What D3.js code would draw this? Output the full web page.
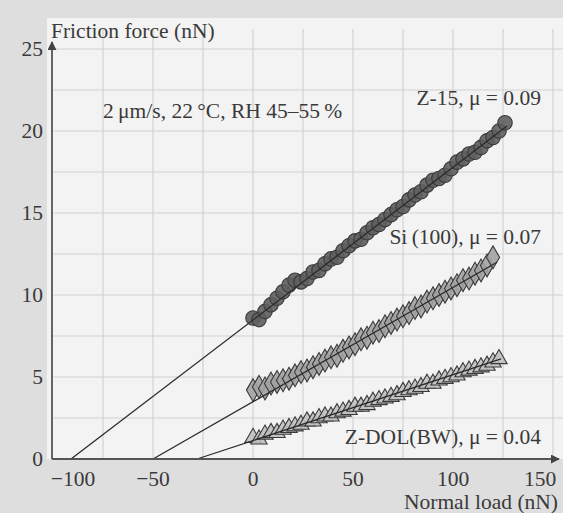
<!DOCTYPE html>
<html>
<head>
<meta charset="utf-8">
<script src="https://cdn.jsdelivr.net/npm/d3@7"></script>
<style>
  html, body { margin: 0; padding: 0; background: #dedede; }
  svg { display: block; }
  text { font-family: "Liberation Serif", "DejaVu Serif", serif; fill: #3a3a3a; }
</style>
</head>
<body>
<div id="chart"></div>
<script>
// normal load sweep (nN)
const load = [0, 3, 6, 9, 12, 15, 18, 21, 24, 27, 30, 33, 36, 39, 42, 45, 48, 51, 54, 57,
  60, 63, 66, 69, 72, 75, 78, 81, 84, 87, 90, 93, 96, 99, 102, 105, 108, 111, 114, 117,
  120, 123, 126];

// friction force (nN)
const z15 = [8.6, 8.5, 9.0, 9.4, 9.8, 10.2, 10.6, 10.9, 10.8, 11.0, 11.4, 11.5, 11.9, 12.2,
  12.3, 12.7, 13.0, 13.3, 13.4, 13.8, 14.1, 14.3, 14.6, 14.9, 15.2, 15.4, 15.8, 16.1, 16.3,
  16.7, 17.0, 17.1, 17.3, 17.7, 18.1, 18.3, 18.6, 18.7, 19.0, 19.4, 19.6, 20.0, 20.5];
const si100 = [4.2, 4.4, 4.3, 4.6, 4.7, 4.8, 4.9, 5.1, 5.3, 5.4, 5.6, 5.8, 6.0, 6.2, 6.3,
  6.6, 6.8, 7.0, 7.3, 7.4, 7.7, 7.8, 8.1, 8.3, 8.5, 8.7, 8.9, 9.2, 9.3, 9.6, 9.8, 10.0,
  10.2, 10.4, 10.6, 10.9, 11.0, 11.3, 11.5, 11.8, 12.3];
const zdol = [1.3, 1.2, 1.5, 1.6, 1.6, 1.8, 1.9, 2.0, 2.1, 2.3, 2.3, 2.5, 2.6, 2.6, 2.8,
  2.9, 3.0, 3.2, 3.2, 3.3, 3.5, 3.6, 3.7, 3.8, 3.9, 4.1, 4.2, 4.3, 4.4, 4.6, 4.6, 4.8,
  4.9, 5.0, 5.1, 5.3, 5.4, 5.5, 5.6, 5.7, 5.9, 6.1];

// linear fits, extrapolated to zero friction
const fitZ15 = [[-91, 0], [127, 20.3]];
const fitSi = [[-50, 0], [122, 12.0]];
const fitDol = [[-28, 0], [124, 6.1]];

const xTicks = [-100, -50, 0, 50, 100, 150];
const yTicks = [0, 5, 10, 15, 20, 25];
const xGrid = [-75, -50, -25, 0, 25, 50, 75, 100, 125, 150];
const yGrid = [2.5, 5, 7.5, 10, 12.5, 15, 17.5, 20, 22.5, 25];

const width = 563, height = 513;
const fs = 21.5;

const x = d3.scaleLinear().domain([-100, 150]).range([53, 553]);
const y = d3.scaleLinear().domain([0, 25]).range([459, 49]);

const svg = d3.select('#chart').append('svg')
  .attr('width', width)
  .attr('height', height);

// paper + plot area
svg.append('rect').attr('width', width).attr('height', height).attr('fill', '#dedede');
svg.append('rect')
  .attr('x', 47).attr('y', 18)
  .attr('width', width - 47).attr('height', 441)
  .attr('fill', '#f3f3f3');

// grid
const grid = svg.append('g').attr('stroke', '#d2d2d2').attr('stroke-width', 1.2);
grid.selectAll('.gx').data(xGrid).join('line')
  .attr('x1', d => x(d)).attr('x2', d => x(d))
  .attr('y1', y(0)).attr('y2', y(25) - 20);
grid.selectAll('.gy').data(yGrid).join('line')
  .attr('x1', x(-100)).attr('x2', width)
  .attr('y1', d => y(d)).attr('y2', d => y(d));

// markers
function points(values, symbol, size, fill) {
  const pts = values.map((v, i) => [load[i], v]);
  svg.append('g').selectAll('path').data(pts).join('path')
    .attr('transform', d => `translate(${x(d[0])},${y(d[1])})`)
    .attr('d', d3.symbol().type(symbol).size(size))
    .attr('fill', fill)
    .attr('fill-opacity', 0.9)
    .attr('stroke', '#3a3a3a')
    .attr('stroke-width', 1.1);
}
points(zdol, d3.symbolTriangle, 115, '#c0c0c0');
points(si100, d3.symbolDiamond, 150, '#a2a2a2');
points(z15, d3.symbolCircle, 165, '#5e5e5e');

// fit lines drawn over the markers
const line = d3.line().x(d => x(d[0])).y(d => y(d[1]));
[fitZ15, fitSi, fitDol].forEach(f => {
  svg.append('path')
    .attr('d', line(f))
    .attr('fill', 'none')
    .attr('stroke', '#2a2a2a')
    .attr('stroke-width', 1.3);
});

// axes
const axisCol = '#555';
svg.append('defs').append('marker')
  .attr('id', 'arrow')
  .attr('viewBox', '0 0 10 10')
  .attr('refX', 9).attr('refY', 5)
  .attr('markerWidth', 5).attr('markerHeight', 5)
  .attr('orient', 'auto')
  .append('path').attr('d', 'M0,0L10,5L0,10z').attr('fill', '#444');

svg.append('line')
  .attr('x1', x(-100) - 1).attr('x2', x(150) + 6)
  .attr('y1', y(0)).attr('y2', y(0))
  .attr('stroke', axisCol).attr('stroke-width', 1.8)
  .attr('marker-end', 'url(#arrow)');
svg.append('line')
  .attr('x1', x(-100) - 1).attr('x2', x(-100) - 1)
  .attr('y1', y(0)).attr('y2', y(25) - 7)
  .attr('stroke', axisCol).attr('stroke-width', 1.8)
  .attr('marker-end', 'url(#arrow)');

// tick labels
svg.append('g').selectAll('text').data(xTicks).join('text')
  .attr('x', d => x(d) + (d === -100 ? 20 : d === 150 ? -13 : 0))
  .attr('y', y(0) + 27)
  .attr('text-anchor', 'middle')
  .attr('font-size', fs)
  .text(d => d < 0 ? '\u2212' + Math.abs(d) : d);

svg.append('g').selectAll('text').data(yTicks).join('text')
  .attr('x', 43)
  .attr('y', d => y(d) + 7)
  .attr('text-anchor', 'end')
  .attr('font-size', fs)
  .text(d => d);

// titles
svg.append('text').attr('x', 51).attr('y', 38).attr('font-size', fs)
  .text('Friction force (nN)');
svg.append('text').attr('x', 558).attr('y', 509).attr('text-anchor', 'end').attr('font-size', fs)
  .text('Normal load (nN)');

// annotations
svg.append('text').attr('x', 103).attr('y', 118).attr('font-size', fs)
  .text('2\u2009\u03bcm/s, 22\u2009\u00b0C, RH 45\u201355\u2009%');

const labels = [
  { text: 'Z-15, \u03bc = 0.09', y: 105 },
  { text: 'Si\u2009(100), \u03bc = 0.07', y: 244 },
  { text: 'Z-DOL(BW), \u03bc = 0.04', y: 444 }
];
svg.append('g').selectAll('text').data(labels).join('text')
  .attr('x', 541)
  .attr('y', d => d.y)
  .attr('text-anchor', 'end')
  .attr('font-size', fs)
  .text(d => d.text);
</script>
</body>
</html>
